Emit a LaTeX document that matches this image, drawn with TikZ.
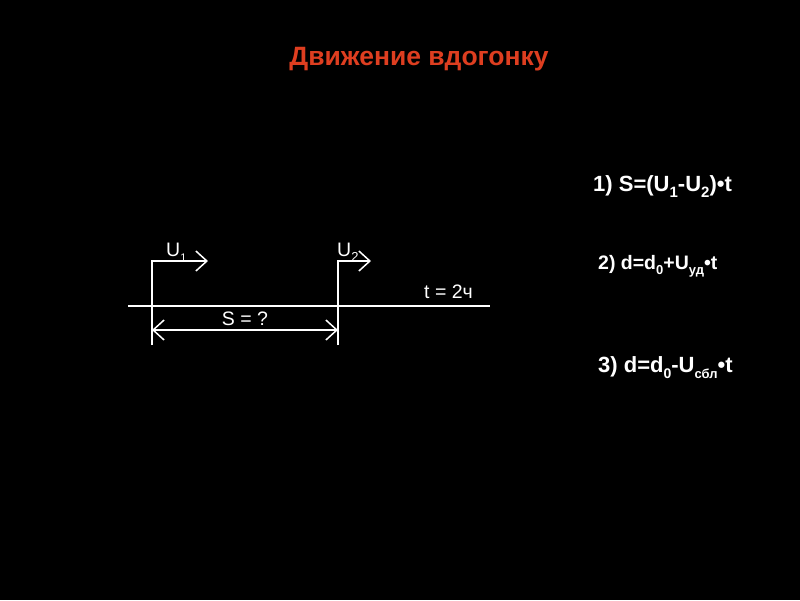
\documentclass[tikz,border=0pt]{standalone}
\usepackage{fontspec}
\setmainfont{Liberation Sans}
\usetikzlibrary{arrows.meta}
\newcommand\mysub[2]{\raisebox{-0.3em}{\fontsize{#1}{#1}\selectfont #2}}
\begin{document}
\begin{tikzpicture}[x=1pt,y=-1pt,
 ln/.style={draw=white, line width=1.5pt},
 chev/.style={-{Straight Barb[length=11pt,width=20pt,line width=1.5pt]}},
 chevboth/.style={{Straight Barb[length=11pt,width=20pt,line width=1.5pt]}-{Straight Barb[length=11pt,width=20pt,line width=1.5pt]}},
 lbl/.style={text=white, font=\fontsize{19.5}{22}\selectfont, inner sep=0},
 formula/.style={text=white, font=\bfseries\fontsize{22}{24}\selectfont, inner sep=0, anchor=west},
]
\fill[black] (0,0) rectangle (800,600);
\useasboundingbox (0,0) rectangle (800,600);
\definecolor{titlered}{RGB}{222,62,32}
\node[text=titlered, font=\bfseries\fontsize{26.5}{28}\selectfont, inner sep=0, anchor=base] (title) at (419,65) {Движение вдогонку};

\coordinate (l0) at (128,306); \coordinate (l1) at (490,306);
\coordinate (aBot) at (152,345); \coordinate (aTop) at (152,261); \coordinate (aTip) at (208,261);
\coordinate (bBot) at (338,345); \coordinate (bTop) at (338,261); \coordinate (bTip) at (371,261);
\coordinate (sA) at (152,330); \coordinate (sB) at (338,330);

\draw[ln] (l0) -- (l1);
\draw[ln,chev] (aBot) -- (aTop) -- (aTip);
\draw[ln,chev] (bBot) -- (bTop) -- (bTip);
\draw[ln,chevboth] (sA) -- (sB);

\node[lbl, anchor=base west] (u1) at (166,256) {U\mysub{11}{1}};
\node[lbl, anchor=base west] (u2) at (337,256) {U\mysub{13}{2}};
\node[lbl, anchor=base west] (t) at (424,298) {t = 2ч};
\node[lbl, anchor=base] (s) at (245,325) {S = ?};

\node[formula, anchor=base west] (f1) at (593,191) {1) S=(U\mysub{15}{1}-U\mysub{15}{2})•t};
\node[formula, anchor=base west, font=\bfseries\fontsize{19.5}{22}\selectfont] (f2) at (598,269) {2) d=d\mysub{13}{0}+U\mysub{13}{уд}•t};
\node[formula, anchor=base west] (f3) at (598,372) {3) d=d\mysub{14}{0}-U\mysub{13}{сбл}•t};
\end{tikzpicture}
\end{document}
